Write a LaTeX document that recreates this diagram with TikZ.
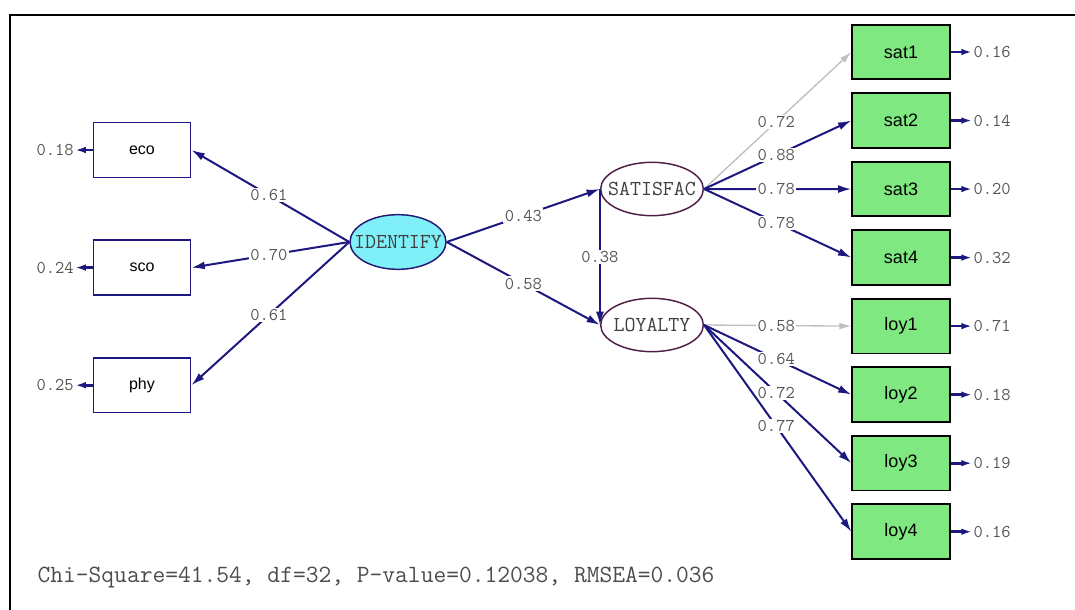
\documentclass[tikz,border=0pt]{standalone}
\usepackage{fontspec}
\setmainfont{Liberation Sans}
\usepackage{xcolor}
\usetikzlibrary{positioning,arrows.meta,shapes.geometric}
\definecolor{pathblue}{RGB}{28,24,128}
\definecolor{boxgreen}{RGB}{128,232,128}
\definecolor{latcyan}{RGB}{128,240,248}
\definecolor{latrim}{RGB}{80,30,70}
\definecolor{labgray}{RGB}{85,85,85}
\tikzset{
leftbox/.style={shape=rectangle, draw=pathblue, line width=1.2pt, fill=white, minimum width=73pt, minimum height=41pt, font=\fontsize{12}{14}\selectfont},
rightbox/.style={shape=rectangle, draw=black, line width=1.4pt, fill=boxgreen, minimum width=73pt, minimum height=41pt, font=\fontsize{13.5}{16}\selectfont},
latent/.style={shape=ellipse, draw=latrim, line width=1.1pt, fill=white, minimum width=77pt, minimum height=40pt, inner sep=0pt},
latname/.style={font=\ttfamily\fontsize{16}{18}\selectfont, text=black!75, inner sep=0pt},
pathlabel/.style={font=\ttfamily\fontsize{13.5}{16}\selectfont, text=labgray, fill=white, inner sep=1pt},
errlabel/.style={font=\ttfamily\fontsize{13.5}{16}\selectfont, text=labgray, inner sep=1pt},
loading/.style={draw=pathblue, line width=1.5pt, -{Latex[length=10pt,width=6pt]}},
fixedload/.style={draw=black!25, line width=1pt, -{Latex[length=9pt,width=5pt]}},
errarrow/.style={draw=pathblue, line width=2pt, -{Latex[length=8pt,width=5pt]}}
}

\begin{document}
\begin{tikzpicture}[x=0.75pt, y=-0.75pt]
      \useasboundingbox (0,0) rectangle (1075,610);
      % frame
      \draw[line width=2.2pt] (1075,15) -- (10,15) -- (10,610);

      % exogenous side
      \node[latent, fill=latcyan, draw=pathblue!80!latrim, minimum width=72pt, minimum height=41pt, label={[latname]center:IDENTIFY}] (identify) at (398,242) {};
      \node[leftbox] (eco) at (142,150) {eco};
      \node[leftbox, below=46pt of eco] (sco) {sco};
      \node[leftbox, below=46pt of sco] (phy) {phy};
      \node[errlabel, left=13pt of eco] (eco-e) {0.18};
      \node[errlabel, left=13pt of sco] (sco-e) {0.24};
      \node[errlabel, left=13pt of phy] (phy-e) {0.25};

      % endogenous side
      \node[latent, label={[latname]center:SATISFAC}] (satisfac) at (652,189) {};
      \node[latent, label={[latname]center:LOYALTY}] (loyalty) at (652,325) {};
      \node[rightbox] (sat1) at (901,52) {sat1};
      \node[rightbox, below=9pt of sat1] (sat2) {sat2};
      \node[rightbox, below=9pt of sat2] (sat3) {sat3};
      \node[rightbox, below=9pt of sat3] (sat4) {sat4};
      \node[rightbox, below=9pt of sat4] (loy1) {loy1};
      \node[rightbox, below=9pt of loy1] (loy2) {loy2};
      \node[rightbox, below=9pt of loy2] (loy3) {loy3};
      \node[rightbox, below=9pt of loy3] (loy4) {loy4};
      \node[errlabel, right=16pt of sat1] (sat1-e) {0.16};
      \node[errlabel, right=16pt of sat2] (sat2-e) {0.14};
      \node[errlabel, right=16pt of sat3] (sat3-e) {0.20};
      \node[errlabel, right=16pt of sat4] (sat4-e) {0.32};
      \node[errlabel, right=16pt of loy1] (loy1-e) {0.71};
      \node[errlabel, right=16pt of loy2] (loy2-e) {0.18};
      \node[errlabel, right=16pt of loy3] (loy3-e) {0.19};
      \node[errlabel, right=16pt of loy4] (loy4-e) {0.16};

      % loadings and paths
      \draw[loading] (identify.west) -- node[pathlabel, pos=.51] {0.61} (eco.east);
      \draw[loading] (identify.west) -- node[pathlabel, pos=.51] {0.70} (sco.east);
      \draw[loading] (identify.west) -- node[pathlabel, pos=.51] {0.61} (phy.east);
      \draw[loading] (identify.east) -- node[pathlabel] {0.43} (satisfac.west);
      \draw[loading] (identify.east) -- node[pathlabel] {0.58} (loyalty.west);
      \draw[loading] (satisfac.west) -- node[pathlabel] {0.38} (loyalty.west);
      \draw[fixedload] (satisfac.east) -- node[pathlabel, pos=.49] {0.72} (sat1.west);
      \draw[loading] (satisfac.east) -- node[pathlabel, pos=.49] {0.88} (sat2.west);
      \draw[loading] (satisfac.east) -- node[pathlabel, pos=.49] {0.78} (sat3.west);
      \draw[loading] (satisfac.east) -- node[pathlabel, pos=.49] {0.78} (sat4.west);
      \draw[fixedload] (loyalty.east) -- node[pathlabel, pos=.49] {0.58} (loy1.west);
      \draw[loading] (loyalty.east) -- node[pathlabel, pos=.49] {0.64} (loy2.west);
      \draw[loading] (loyalty.east) -- node[pathlabel, pos=.49] {0.72} (loy3.west);
      \draw[loading] (loyalty.east) -- node[pathlabel, pos=.49] {0.77} (loy4.west);

      % error terms
      \draw[errarrow] (eco.west) -- (eco-e.east);
      \draw[errarrow] (sco.west) -- (sco-e.east);
      \draw[errarrow] (phy.west) -- (phy-e.east);
      \draw[errarrow] (sat1.east) -- (sat1-e.west);
      \draw[errarrow] (sat2.east) -- (sat2-e.west);
      \draw[errarrow] (sat3.east) -- (sat3-e.west);
      \draw[errarrow] (sat4.east) -- (sat4-e.west);
      \draw[errarrow] (loy1.east) -- (loy1-e.west);
      \draw[errarrow] (loy2.east) -- (loy2-e.west);
      \draw[errarrow] (loy3.east) -- (loy3-e.west);
      \draw[errarrow] (loy4.east) -- (loy4-e.west);

      \node[errlabel, anchor=west, font=\ttfamily\fontsize{18.6}{21}\selectfont, text=black!70] (fit) at (36,577) {Chi-Square=41.54, df=32, P-value=0.12038, RMSEA=0.036};
\end{tikzpicture}
\end{document}
